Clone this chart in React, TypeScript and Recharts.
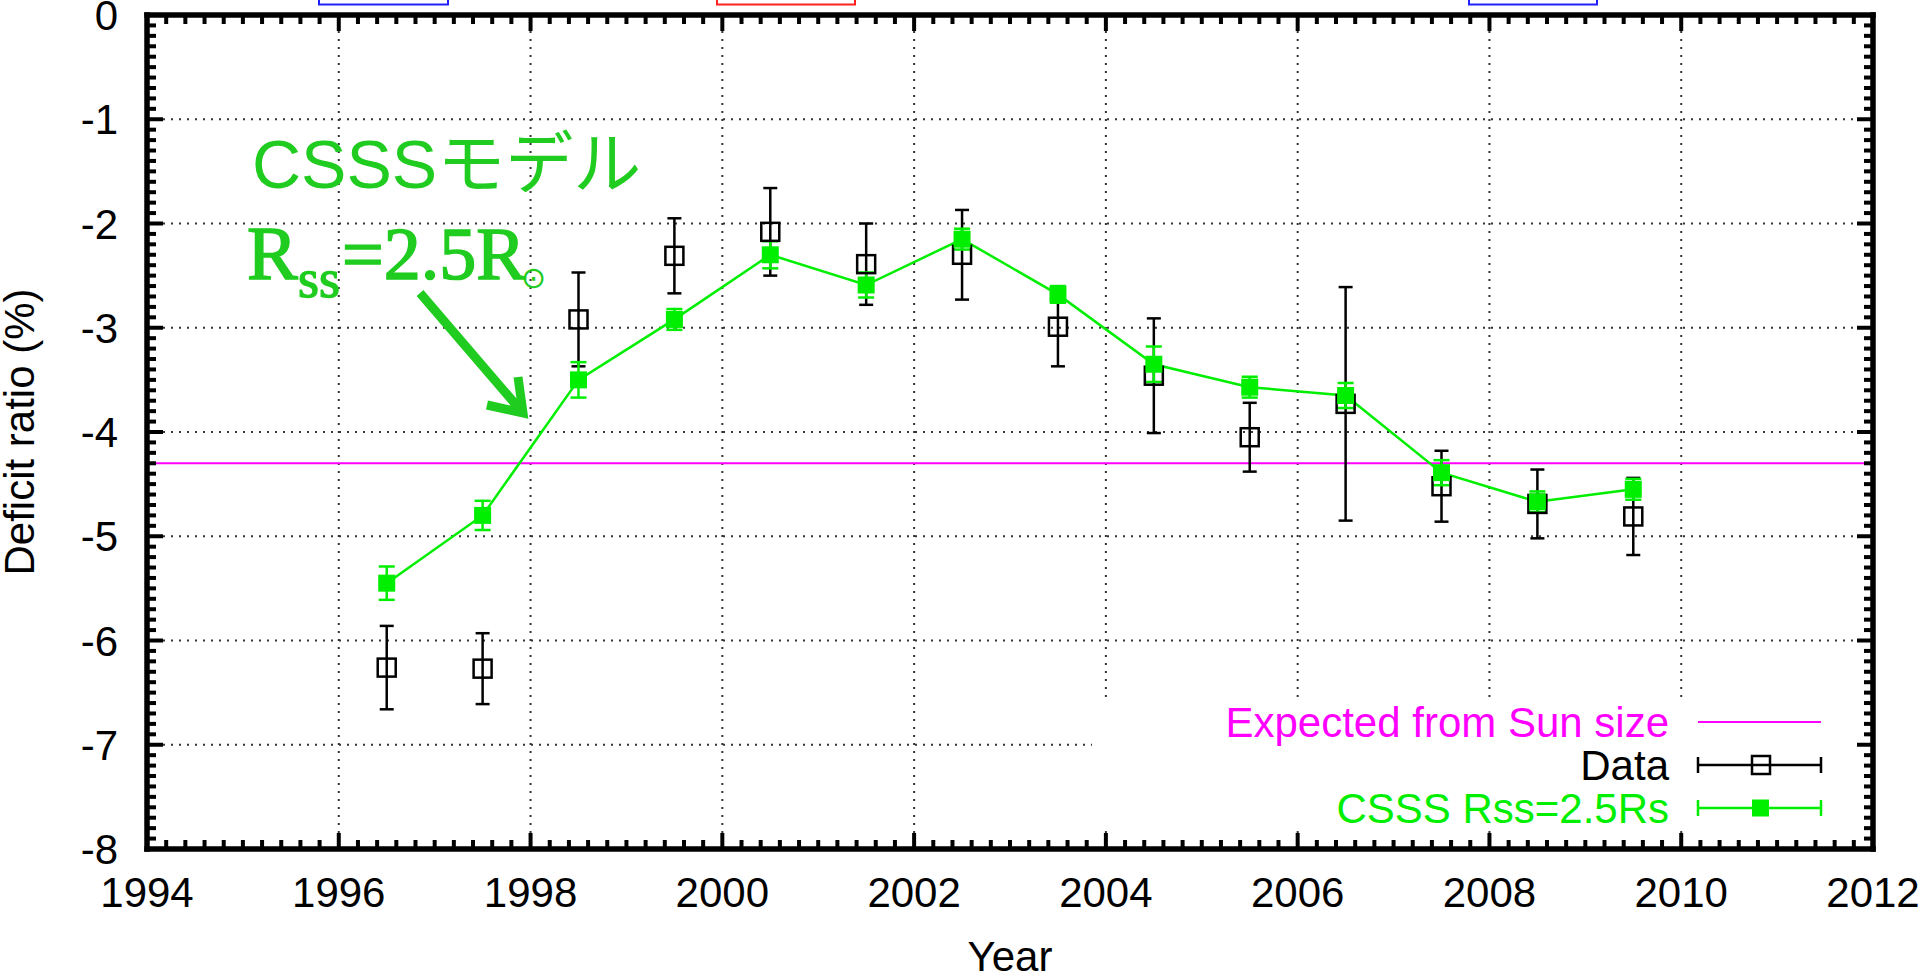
import React from 'react';
import { ComposedChart, Line, XAxis, YAxis, ErrorBar, ReferenceLine } from 'recharts';

// ---- data ----
const years = [1996.5, 1997.5, 1998.5, 1999.5, 2000.5, 2001.5, 2002.5, 2003.5, 2004.5, 2005.5, 2006.5, 2007.5, 2008.5, 2009.5];
const dataValues = [-6.26, -6.27, -2.92, -2.31, -2.08, -2.39, -2.30, -2.99, -3.46, -4.05, -3.73, -4.52, -4.69, -4.81];
const dataErrors = [0.40, 0.34, 0.45, 0.36, 0.42, 0.39, 0.43, 0.38, 0.55, 0.33, 1.12, 0.34, 0.33, 0.37];
const csssValues = [-5.45, -4.80, -3.50, -2.92, -2.30, -2.59, -2.15, -2.68, -3.35, -3.57, -3.65, -4.39, -4.67, -4.55];
const csssErrors = [0.16, 0.14, 0.17, 0.10, 0.13, 0.12, 0.10, 0.08, 0.17, 0.10, 0.12, 0.12, 0.10, 0.10];
const expectedFromSunSize = -4.3;

// ---- ticks ----
const majorYearTicks = [1994, 1996, 1998, 2000, 2002, 2004, 2006, 2008, 2010, 2012];
const majorValueTicks = [0, -1, -2, -3, -4, -5, -6, -7, -8];
const yearMin = 1994, yearMax = 2012, yearMinorStep = 0.2;
const valueMin = -8, valueMax = 0, valueMinorStep = 0.1;
const allYearTicks = Array.from({ length: Math.round((yearMax - yearMin) / yearMinorStep) + 1 }, (_, i) => Math.round((yearMin + i * yearMinorStep) * 10) / 10);
const allValueTicks = Array.from({ length: Math.round((valueMax - valueMin) / valueMinorStep) + 1 }, (_, i) => Math.round((valueMin + i * valueMinorStep) * 10) / 10);

const legendLabels = ['Expected from Sun size', 'Data', 'CSSS Rss=2.5Rs'];
const xLabel = 'Year';
const yLabel = 'Deficit ratio (%)';

const chartData = years.map((year, i) => ({
  year,
  data: dataValues[i],
  dataErr: dataErrors[i],
  csss: csssValues[i],
  csssErr: csssErrors[i],
}));

const FONT = '"Liberation Sans", Arial, Helvetica, sans-serif';
const SERIF = '"Liberation Serif", "Times New Roman", Times, serif';
const GREEN = '#00ee00';
const ANNOT_GREEN = '#1fcc1f';
const MAGENTA = '#ff00ff';
const GRID = '#333';
const TICK_COLOR = '#000';

const isMajor = (v: number, majors: number[]) => majors.some((m) => Math.abs(m - v) < 1e-6);
const MAJOR_LEN = 16;
const MINOR_LEN = 9;
const TICK_W = 4;

const renderBottomTick = (p: any) => {
  const v = p.payload.value;
  const major = isMajor(v, majorYearTicks);
  return (
    <g>
      <path d={`M${p.x},${p.y} L${p.x},${p.y - (major ? MAJOR_LEN : MINOR_LEN)}`} stroke={TICK_COLOR} strokeWidth={TICK_W} fill="none" />
      {major && (
        <text x={p.x} y={p.y + 58} textAnchor="middle" fontSize={42} fontFamily={FONT} fill="#000">
          {String(v)}
        </text>
      )}
    </g>
  );
};
const renderTopTick = (p: any) => {
  const v = p.payload.value;
  const major = isMajor(v, majorYearTicks);
  return <path d={`M${p.x},${p.y} L${p.x},${p.y + (major ? MAJOR_LEN : MINOR_LEN)}`} stroke={TICK_COLOR} strokeWidth={TICK_W} fill="none" />;
};
const renderLeftTick = (p: any) => {
  const v = p.payload.value;
  const major = isMajor(v, majorValueTicks);
  return (
    <g>
      <path d={`M${p.x},${p.y} L${p.x + (major ? MAJOR_LEN : MINOR_LEN)},${p.y}`} stroke={TICK_COLOR} strokeWidth={TICK_W} fill="none" />
      {major && (
        <text x={p.x - 29} y={p.y + 15} textAnchor="end" fontSize={42} fontFamily={FONT} fill="#000">
          {String(v)}
        </text>
      )}
    </g>
  );
};
const renderRightTick = (p: any) => {
  const v = p.payload.value;
  const major = isMajor(v, majorValueTicks);
  return <path d={`M${p.x},${p.y} L${p.x - (major ? MAJOR_LEN : MINOR_LEN)},${p.y}`} stroke={TICK_COLOR} strokeWidth={TICK_W} fill="none" />;
};

const openSquare = (p: any) => {
  if (p.cx == null || p.cy == null) return <g key={`os-${p.index}`} />;
  return <rect key={`os-${p.index}`} x={p.cx - 9} y={p.cy - 9} width={18} height={18} fill="none" stroke="#000" strokeWidth={2.5} />;
};
const filledSquare = (p: any) => {
  if (p.cx == null || p.cy == null) return <g key={`fs-${p.index}`} />;
  return <rect key={`fs-${p.index}`} x={p.cx - 8.5} y={p.cy - 8.5} width={17} height={17} fill={GREEN} stroke="none" />;
};

const axisLineStyle = { stroke: '#000', strokeWidth: 5.5, strokeLinecap: 'square' as const };

export default function App() {
  return (
    <div style={{ position: 'absolute', left: 0, top: 0, width: 1920, height: 974, background: '#fff', overflow: 'hidden' }}>
      <ComposedChart width={1920} height={974} data={chartData} margin={{ top: 0, right: 0, bottom: 0, left: 0 }}>
        {majorYearTicks.slice(1, -1).map((t) => (
          <ReferenceLine key={`gx-${t}`} x={t} xAxisId="b" yAxisId="l" stroke={GRID} strokeWidth={2} strokeDasharray="2 6" />
        ))}
        {majorValueTicks.slice(1, -1).map((t) => (
          <ReferenceLine key={`gy-${t}`} y={t} xAxisId="b" yAxisId="l" stroke={GRID} strokeWidth={2} strokeDasharray="2 6" />
        ))}
        <ReferenceLine y={expectedFromSunSize} xAxisId="b" yAxisId="l" stroke={MAGENTA} strokeWidth={2} />
        {/* invisible series that binds the mirrored top/right axes so they get their ticks */}
        <Line xAxisId="t" yAxisId="r" dataKey="csss" stroke="none" dot={false} activeDot={false} isAnimationActive={false} legendType="none" />
        <Line xAxisId="b" yAxisId="l" dataKey="data" stroke="none" isAnimationActive={false} dot={openSquare} activeDot={false}>
          <ErrorBar dataKey="dataErr" direction="y" width={7} stroke="#000" strokeWidth={2.5} isAnimationActive={false} />
        </Line>
        <Line xAxisId="b" yAxisId="l" dataKey="csss" stroke={GREEN} strokeWidth={2.5} isAnimationActive={false} dot={filledSquare} activeDot={false}>
          <ErrorBar dataKey="csssErr" direction="y" width={8} stroke={GREEN} strokeWidth={2.5} isAnimationActive={false} />
        </Line>
        <XAxis xAxisId="b" dataKey="year" type="number" domain={[yearMin, yearMax]} ticks={allYearTicks} interval={0} height={125}
          tickSize={0} tickMargin={0} tickLine={false} axisLine={axisLineStyle} tick={renderBottomTick} />
        <XAxis xAxisId="t" dataKey="year" orientation="top" type="number" domain={[yearMin, yearMax]} ticks={allYearTicks} interval={0} height={15}
          tickSize={0} tickMargin={0} tickLine={false} axisLine={axisLineStyle} tick={renderTopTick} />
        <YAxis yAxisId="l" type="number" domain={[valueMin, valueMax]} ticks={allValueTicks} interval={0} width={147}
          tickSize={0} tickMargin={0} tickLine={false} axisLine={axisLineStyle} tick={renderLeftTick} />
        <YAxis yAxisId="r" orientation="right" type="number" domain={[valueMin, valueMax]} ticks={allValueTicks} interval={0} width={47}
          tickSize={0} tickMargin={0} tickLine={false} axisLine={axisLineStyle} tick={renderRightTick} />
      </ComposedChart>
      <svg width={1920} height={974} style={{ position: 'absolute', left: 0, top: 0, pointerEvents: 'none' }}>
        <rect x={319} y={-10} width={129} height={14.5} fill="none" stroke="#2020ff" strokeWidth={2} />
        <rect x={717} y={-10} width={138} height={14.5} fill="none" stroke="#ff2020" strokeWidth={2} />
        <rect x={1469} y={-10} width={128} height={14.5} fill="none" stroke="#2020ff" strokeWidth={2} />

        <text transform="translate(34,432) rotate(-90)" textAnchor="middle" fontSize={42} fontFamily={FONT} fill="#000">{yLabel}</text>
        <text x={1010} y={971} textAnchor="middle" fontSize={42} fontFamily={FONT} fill="#000">{xLabel}</text>

        <rect x={1092} y={698} width={762} height={133} fill="#fff" />
        <text x={1669} y={737} textAnchor="end" fontSize={42} fontFamily={FONT} fill={MAGENTA}>{legendLabels[0]}</text>
        <line x1={1698} x2={1821} y1={722} y2={722} stroke={MAGENTA} strokeWidth={2} />
        <text x={1669} y={780} textAnchor="end" fontSize={42} fontFamily={FONT} fill="#000">{legendLabels[1]}</text>
        <line x1={1698} x2={1821} y1={765} y2={765} stroke="#000" strokeWidth={2.5} />
        <line x1={1698} x2={1698} y1={757} y2={773} stroke="#000" strokeWidth={2.5} />
        <line x1={1821} x2={1821} y1={757} y2={773} stroke="#000" strokeWidth={2.5} />
        <rect x={1752} y={756} width={18} height={18} fill="none" stroke="#000" strokeWidth={2.5} />
        <text x={1669} y={823} textAnchor="end" fontSize={42} fontFamily={FONT} fill={GREEN}>{legendLabels[2]}</text>
        <line x1={1698} x2={1821} y1={808} y2={808} stroke={GREEN} strokeWidth={2.5} />
        <line x1={1698} x2={1698} y1={800} y2={816} stroke={GREEN} strokeWidth={2.5} />
        <line x1={1821} x2={1821} y1={800} y2={816} stroke={GREEN} strokeWidth={2.5} />
        <rect x={1752} y={799.5} width={17} height={17} fill={GREEN} />

        <text x={252} y={188} fontSize={68} fontFamily={'"Liberation Sans", Arial, "Noto Sans CJK JP", sans-serif'} fill={ANNOT_GREEN}>CSSSモデル</text>
        <text x={247} y={279} fontSize={76} fontFamily={SERIF} fill={ANNOT_GREEN} stroke={ANNOT_GREEN} strokeWidth={1.6}>R</text>
        <text x={298} y={297} fontSize={54} fontFamily={SERIF} fill={ANNOT_GREEN} stroke={ANNOT_GREEN} strokeWidth={1.4}>ss</text>
        <text x={342} y={279} fontSize={74} fontFamily={SERIF} fill={ANNOT_GREEN} stroke={ANNOT_GREEN} strokeWidth={1.6}>=2.5R</text>
        <text x={521} y={288} fontSize={30} fontFamily={'"DejaVu Sans", sans-serif'} fill={ANNOT_GREEN}>⊙</text>
        <path d="M420,293 L523,413 M518,377 L523,413 L487,405" fill="none" stroke={ANNOT_GREEN} strokeWidth={9} strokeLinejoin="miter" />
      </svg>
    </div>
  );
}
